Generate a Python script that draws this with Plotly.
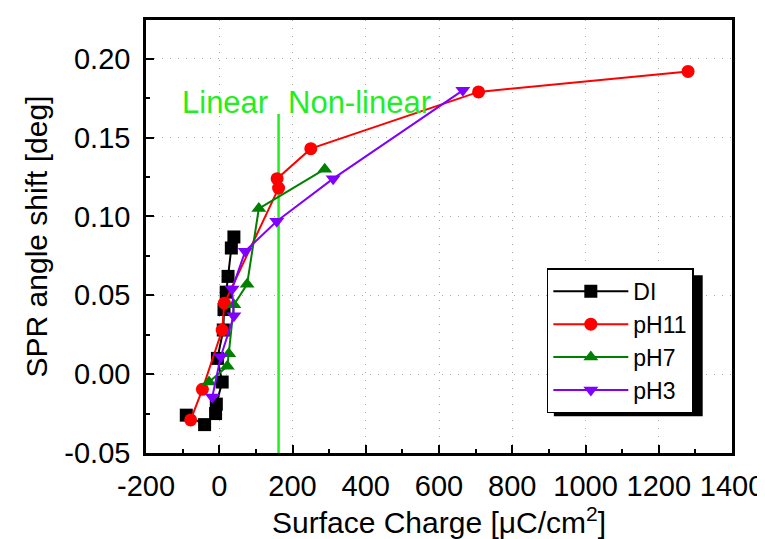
import plotly.graph_objects as go

# Surface charge [uC/cm2] vs SPR angle shift [deg]
di_x = [-90, -40, -10, -8, 8, -5, 11, 13, 19, 24, 33, 40]
di_y = [-0.026, -0.032, -0.025, -0.019, -0.005, 0.010, 0.028, 0.041, 0.052, 0.062, 0.080, 0.087]

ph11_x = [-78, -46, 8, 14, 162, 158, 250, 708, 1280]
ph11_y = [-0.029, -0.0096, 0.028, 0.045, 0.118, 0.124, 0.143, 0.179, 0.192]

ph7_x = [-28, 22, 26, 40, 76, 108, 288]
ph7_y = [-0.005, 0.005, 0.013, 0.044, 0.057, 0.105, 0.130]

ph3_x = [-19, 4, 40, 35, 71, 157, 311, 665]
ph3_y = [-0.0145, 0.011, 0.037, 0.054, 0.078, 0.097, 0.124, 0.180]

divider_x = [162, 162]
divider_y = [-0.05, 0.165]

x_ticks = [-200, 0, 200, 400, 600, 800, 1000, 1200, 1400]
x_labels = ["-200", "0", "200", "400", "600", "800", "1000", "1200", "1400"]
y_ticks = [-0.05, 0.0, 0.05, 0.10, 0.15, 0.20]
y_labels = ["-0.05", "0.00", "0.05", "0.10", "0.15", "0.20"]

FONT = "Liberation Sans, Arial, sans-serif"
GREEN = "#22ee22"

series = [
    ("DI", di_x, di_y, "black", "square"),
    ("pH11", ph11_x, ph11_y, "red", "circle"),
    ("pH7", ph7_x, ph7_y, "green", "triangle-up"),
    ("pH3", ph3_x, ph3_y, "#8000ff", "triangle-down"),
]

fig = go.Figure()
fig.add_trace(go.Scatter(x=divider_x, y=divider_y, mode="lines",
                         line=dict(color=GREEN, width=2.5), showlegend=False,
                         hoverinfo="skip"))
for name, xs, ys, color, symbol in series:
    fig.add_trace(go.Scatter(
        x=xs, y=ys, name=name, mode="lines+markers",
        line=dict(color=color, width=2),
        marker=dict(symbol=symbol, size=13, color=color),
    ))

fig.add_annotation(x=-106, y=0.1723, text="Linear", showarrow=False, xanchor="left",
                   font=dict(family=FONT, size=31, color=GREEN))
fig.add_annotation(x=183, y=0.1723, text="Non-linear", showarrow=False, xanchor="left",
                   font=dict(family=FONT, size=31, color=GREEN))

# legend drop shadow (sits under the legend box, offset down/right)
fig.add_shape(type="rect", xref="paper", yref="paper",
              x0=0.696, x1=0.95, y0=0.085, y1=0.4106,
              fillcolor="black", line=dict(width=0), layer="above")

axis_common = dict(
    showline=True, linecolor="black", linewidth=2.5, mirror=True,
    ticks="inside", ticklen=8, tickwidth=1.5, tickcolor="black",
    showgrid=True, gridcolor="#a8a8a8", griddash="1px,7px", gridwidth=1,
    zeroline=False, tickfont=dict(family=FONT, size=29, color="black"),
)

fig.update_xaxes(range=[-200, 1400], tickvals=x_ticks, ticktext=x_labels,
                 ticklabelstandoff=5,
                 minor=dict(dtick=100, tick0=0, ticks="inside", ticklen=4, tickcolor="black", showgrid=False),
                 title=dict(text="Surface Charge [μC/cm<sup>2</sup>]", standoff=12,
                            font=dict(family=FONT, size=30, color="black")),
                 **axis_common)
fig.update_yaxes(range=[-0.05, 0.2246], tickvals=y_ticks, ticktext=y_labels,
                 ticklabelstandoff=7,
                 minor=dict(dtick=0.025, tick0=0, ticks="inside", ticklen=4, tickcolor="black", showgrid=False),
                 title=dict(text="SPR angle shift [deg]", standoff=8,
                            font=dict(family=FONT, size=30, color="black")),
                 **axis_common)

fig.update_layout(
    width=765, height=539,
    margin=dict(l=138, r=35, t=9, b=94),
    paper_bgcolor="white", plot_bgcolor="white",
    font=dict(family=FONT, color="black"),
    legend=dict(x=0.684, y=0.4266, xanchor="left", yanchor="top",
                bgcolor="white", bordercolor="black", borderwidth=1.5,
                font=dict(family=FONT, size=23, color="black"),
                tracegroupgap=0, itemwidth=75),
)

fig.write_html("out.html")
